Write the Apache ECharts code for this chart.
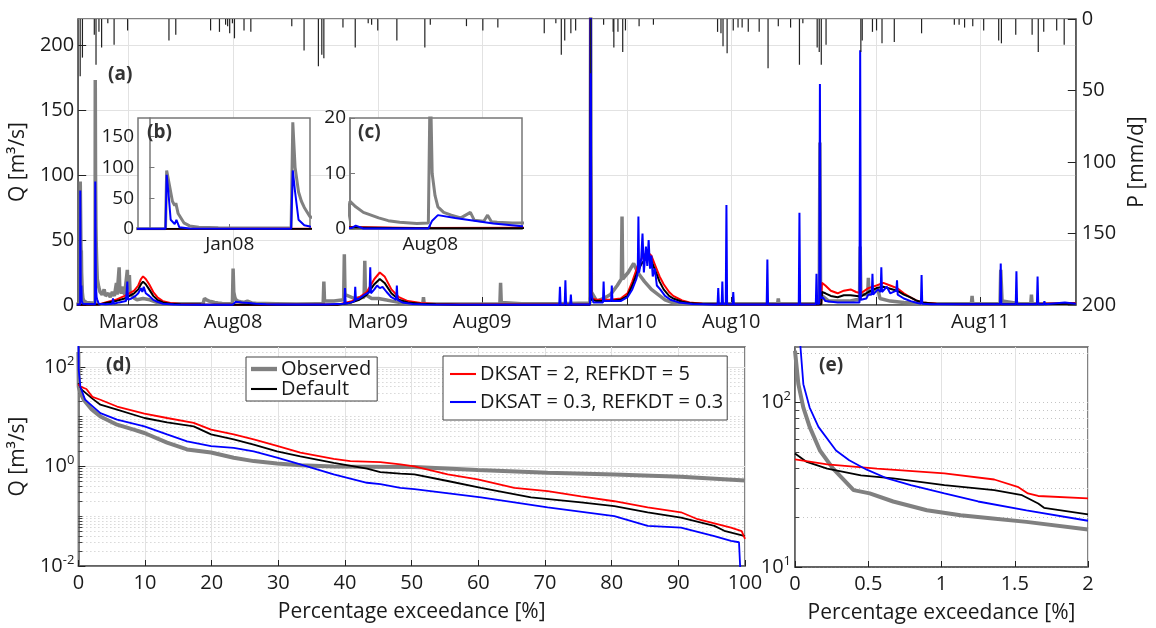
<!DOCTYPE html>
<html><head><meta charset="utf-8">
<script src="https://cdn.jsdelivr.net/npm/echarts@6/dist/echarts.min.js"></script>
<style>html,body{margin:0;padding:0;background:#fff}#c{width:1156px;height:628px}</style>
</head><body><div id="c"></div>
<script>
// ---------- time reference ----------
const startDate = '2007-12-18';
const endDate = '2011-12-19';
const timeTickDates = ['2008-03-01','2008-08-01','2009-03-01','2009-08-01','2010-03-01','2010-08-01','2011-03-01','2011-08-01'];
const timeTickLabels = ['Mar08','Aug08','Mar09','Aug09','Mar10','Aug10','Mar11','Aug11'];
const insetBRange = ['2007-12-16','2008-01-15'];
const insetBTickDates = ['2008-01-01'];
const insetBTickLabels = ['Jan08'];
const insetCRange = ['2008-06-20','2008-09-18'];
const insetCTickDates = ['2008-08-01'];
const insetCTickLabels = ['Aug08'];

// ---------- panel (a): daily discharge [day since start, m3/s] ----------
const obsQ = [[-3,0.5],[2.8,0.5],[3,95],[3.5,70],[4,45],[4.4,38],[4.6,42],[5,25],[6,10],[7,5],[8.6,3],[12,2],[20,1.5],[24.7,1.5],[25,173],[25.4,100],[26,60],[26.5,45],[27,35],[28,20],[30,14],[32,10],[35,8],[38,12],[40,7],[44,9],[47,6],[50,10],[53,7],[56,17],[57,8],[60,29],[61,12],[63,9],[66,14],[68,8],[72,27],[73,12],[75,23],[76,10],[80,6],[86,4],[95,5],[105,4],[115,2],[130,1.2],[160,1],[183,1],[185,5],[188,4],[192,3],[196,2.5],[200,2],[205,1.5],[211,1.2],[220,1],[226,1.1],[227,28],[228,10],[229.5,6],[231,4],[234,3],[238,2.5],[243,2],[248,3],[250,1.6],[255,1.4],[257,2.5],[259,1.3],[262,1.2],[270,1.1],[275,1.1],[290,1],[320,0.8],[350,1],[359,1],[360,18],[361,3],[375,3],[389,4],[390,39],[391,8],[405,5],[419,6],[420,34],[421,8],[430,5],[440,5],[450,4],[460,3],[470,2],[490,1],[505,0.8],[506,6],[507,1],[560,0.8],[618,1],[619,17],[620,2],[650,1],[700,1],[750,1.5],[751,230],[752,10],[760,3],[770,5],[780,8],[790,15],[796,20],[797,68],[798,20],[806,25],[814,32],[820,25],[830,18],[840,12],[850,8],[860,4],[870,2],[890,1],[960,1],[1025,1],[1026,5],[1027,1],[1080,1],[1086,3],[1087,125],[1088,8],[1100,3],[1130,3],[1140,4],[1145,4],[1146,45],[1147,8],[1157,8],[1158,21],[1159,8],[1172,12],[1175,5],[1190,3],[1210,2],[1240,1],[1309,1],[1310,7],[1311,1],[1351,1],[1352,27],[1354,3],[1380,1],[1396,1],[1397,8],[1398,1],[1462,1]];
const defQ = [[-3,0.1],[30,0.3],[40,1.5],[55,3],[68,5],[75,7],[82,9],[88,12],[92,16],[95,18],[99,16],[104,12],[110,7],[116,4],[124,2],[135,1],[150,0.5],[180,0.3],[220,0.15],[380,0.2],[401,2],[412,4],[423,8],[434,16],[442,20],[449,17],[459,9],[470,4],[483,2],[502,1],[524,0.5],[560,0.2],[750,0.2],[751,235],[752,4],[760,3],[780,3],[795,4],[805,7],[812,15],[820,26],[826,32],[834,37],[840,34],[846,26],[852,18],[858,12],[866,7],[872,5],[885,2.5],[896,1.5],[915,0.7],[940,0.4],[1000,0.3],[1085,0.4],[1089,0.5],[1090,10],[1095,9],[1103,7],[1113,6],[1122,7.5],[1132,7.5],[1147,6.5],[1158,10],[1170,13],[1180,14],[1190,12.5],[1200,11],[1210,8],[1219,6],[1228,3.5],[1238,2],[1258,0.8],[1300,0.5],[1400,0.6],[1462,1]];
const redQ = [[-3,0.1],[30,0.5],[40,2],[55,4],[68,7],[75,9],[82,11],[88,15],[92,20],[95,22],[99,20],[104,16],[110,10],[116,6],[124,3],[135,1.5],[150,0.8],[180,0.4],[220,0.2],[380,0.3],[401,3],[412,6],[423,10],[434,20],[442,25],[449,22],[459,12],[470,6],[483,3],[502,1.5],[524,0.7],[560,0.3],[750,0.3],[751,240],[752,5],[760,4],[780,4],[795,5],[805,9],[812,18],[820,30],[826,36],[834,41],[840,38],[846,30],[852,22],[858,16],[866,10],[872,7],[885,3.5],[896,2],[915,1],[940,0.6],[1000,0.4],[1085,0.5],[1089,1],[1090,17],[1095,15],[1103,11],[1113,9],[1122,11],[1132,12],[1140,10],[1147,9],[1158,13],[1170,15],[1180,17],[1190,15],[1200,13],[1210,9],[1219,6],[1228,3.5],[1238,2],[1258,1],[1300,0.6],[1400,0.8],[1462,1.5]];
const blueQ = [[-3,0.3],[2.8,0.3],[3,88],[3.3,60],[3.7,15],[4.4,8],[4.7,15],[5.2,3],[7,1],[24.7,0.5],[25,95],[25.4,60],[26,15],[27,6],[28,4],[30,1],[40,0.5],[50,1],[51,5],[52,1],[60,2],[70,3],[72,18],[73,4],[78,5],[84,7],[88,9],[92,13],[94,10],[96,14],[99,9],[104,7],[110,4],[116,2.5],[124,1],[140,0.4],[180,0.2],[186,0.2],[188,0.6],[192,0.1],[226,0.1],[228,1.5],[231,2.5],[240,2],[250,1.5],[260,1],[275,0.5],[290,0.3],[360,0.3],[390,1],[391,13],[392,1],[400,2],[405,3],[406,14],[407,4],[412,5],[420,8],[427,10],[428,29],[429,9],[434,12],[438,15],[442,13],[446,14],[452,10],[459,6],[466,4],[467,15],[468,4],[475,2],[490,0.8],[510,0.3],[705,0.2],[706,14],[707,0.2],[713,0.3],[714,19],[715,0.3],[721,0.2],[722,8],[723,0.3],[750,0.3],[751,260],[752,8],[755,2],[769,2],[770,18],[771,3],[781,3],[782,15],[783,3],[795,3],[805,6],[812,12],[818,20],[820,25],[821,68],[822,25],[825,35],[827,55],[829,25],[832,45],[834,30],[836,50],[838,28],[840,38],[842,22],[845,28],[848,15],[853,12],[860,7],[868,4],[880,2],[900,0.8],[930,0.3],[937,0.3],[938,13],[939,0.5],[943,0.5],[944,18],[945,0.5],[949,0.5],[950,77],[951,0.5],[959,0.3],[960,10],[961,0.3],[1009,0.3],[1010,35],[1011,0.3],[1056,0.3],[1057,71],[1058,0.3],[1081,0.5],[1082,24],[1083,1],[1086,1],[1087,170],[1088,5],[1091,6],[1095,3],[1113,2],[1130,2],[1145,2],[1146,196],[1147,4],[1155,5],[1158,8],[1163,8],[1164,24],[1165,8],[1172,12],[1176,10],[1177,29],[1178,10],[1185,14],[1190,9],[1199,11],[1200,19],[1201,8],[1210,5],[1220,3],[1230,1.5],[1235,1],[1236,23],[1237,1],[1250,0.5],[1351,0.5],[1352,32],[1353,0.5],[1374,0.5],[1375,26],[1376,0.5],[1405,0.5],[1406,22],[1407,0.5],[1415,0.5],[1416,3],[1417,0.5],[1446,2],[1462,1]];
// precipitation [day, mm/d]
const precipP = [[2.9,40],[6.2,27],[23.6,11],[26.1,32],[30.4,9],[34.3,20],[43.4,3],[52.6,18],[72.4,8],[133,15],[143,11],[194,8],[207,9],[216,4],[219,5],[222,10],[226,3],[229,13.5],[243,8],[253,9],[313,5],[331,22],[352,33],[357,25],[360,27.5],[388,6],[406,20],[425,3],[430,4],[439,8],[467,15],[508,20],[516,4],[569,5],[593,8],[615,6],[683,10],[700,3],[708,25],[713,15],[722,10],[729,8],[751,38],[770,4],[784,9],[785,20],[791,9],[798,23],[802,8],[822,5],[843,4],[937,9],[942,10],[945,19],[951,24],[960,8],[967,6],[973,6],[982,9],[998,9],[1011,34.5],[1026,5],[1044,6],[1057,32],[1062,3],[1083,20],[1086,23],[1089,32],[1096,18],[1147,23],[1149,15],[1164,9],[1170,8],[1178,17],[1196,16],[1236,10],[1284,4],[1291,4],[1299,6],[1311,5],[1327,8],[1349,15],[1353,17],[1374,11],[1398,11],[1407,23],[1415,9],[1434,8],[1445,18]];

// ---------- panel (d): flow duration curves [% exceedance, m3/s] ----------
const fdcObs = [[0,200],[0.05,40],[0.3,30],[0.8,22],[2,14],[3.3,10.1],[5.8,6.9],[8.3,5.5],[9.9,4.7],[13.3,3.0],[16.3,2.2],[19.9,1.9],[23.3,1.5],[26.3,1.28],[29.8,1.15],[33.3,1.06],[38.3,1.0],[43.3,0.99],[50.4,0.97],[59.9,0.85],[70.4,0.75],[80.4,0.69],[90.4,0.62],[100,0.52]];
const fdcDef = [[0,47],[0.5,35],[2,23.6],[3.3,17.4],[5.8,13.8],[9.9,9.4],[13.3,7.7],[17.3,6.4],[19.9,4.4],[23.3,3.5],[26.3,2.75],[29.8,2.0],[33.3,1.6],[38.3,1.18],[43.3,0.9],[45.3,0.77],[48.3,0.72],[50.4,0.69],[55.4,0.51],[60.4,0.37],[67.9,0.24],[75.4,0.19],[80.4,0.16],[85.4,0.12],[90.4,0.094],[95.4,0.064],[96.9,0.051],[100,0.04]];
const fdcRed = [[0,45],[0.3,40],[1.2,36],[2.1,25],[3.3,21.9],[5.8,16],[9.9,11.5],[13.3,9.4],[17.3,7.5],[19.9,5.5],[23.3,4.4],[26.3,3.5],[29.8,2.6],[33.3,1.9],[38.3,1.42],[40.8,1.28],[45.3,1.22],[48.3,1.1],[50.4,1.0],[55.4,0.69],[59.9,0.55],[65.4,0.37],[70.4,0.32],[75.4,0.25],[80.4,0.20],[85.4,0.15],[90.4,0.12],[92.9,0.087],[95.4,0.072],[97.9,0.059],[99.5,0.05],[100,0.035]];
const fdcBlue = [[0,400],[0.05,87],[0.3,40],[1,22],[3.3,11.8],[5.8,8.7],[9.9,6.4],[13.3,4.4],[16.3,3.2],[19.9,2.55],[23.3,2.36],[26.3,2.0],[29.8,1.5],[33.3,1.1],[38.3,0.69],[43.3,0.47],[45.3,0.44],[48.3,0.37],[50.4,0.35],[60.4,0.24],[70.4,0.15],[80.4,0.10],[85.4,0.064],[90.4,0.059],[95.4,0.04],[97.9,0.032],[99.1,0.03],[99.3,0.008]];

// ---------- panel (e): first 2 % ----------
const fdeObs = [[0,206],[0.023,129],[0.057,93],[0.10,71],[0.17,51],[0.26,39.6],[0.40,29.3],[0.51,28],[0.67,25],[0.90,22.1],[1.13,20.6],[1.35,19.7],[1.58,18.8],[2.0,16.9]];
const fdeDef = [[0,48.9],[0.08,43.5],[0.22,39.6],[0.45,36],[0.67,34.5],[1.02,31.4],[1.36,29.3],[1.55,27.3],[1.66,24.3],[1.70,22.9],[2.0,20.9]];
const fdeRed = [[0,45],[0.22,42],[0.56,39.6],[1.02,37],[1.36,34],[1.52,30.7],[1.59,28],[1.66,27],[2.0,26.1]];
const fdeBlue = [[0.025,300],[0.057,129],[0.10,93],[0.16,71],[0.28,51],[0.37,44.5],[0.49,39],[0.63,34.5],[0.79,31.4],[1.02,28],[1.25,25],[1.58,22.1],[2.0,19.1]];

const logMajorD = [0.01, 1, 100];
const logMinorD = [0.02,0.03,0.04,0.05,0.06,0.07,0.08,0.09,0.1,0.2,0.3,0.4,0.5,0.6,0.7,0.8,0.9,2,3,4,5,6,7,8,9,10,20,30,40,50,60,70,80,90,200];
const logMajorE = [10, 100];
const logMinorE = [20,30,40,50,60,70,80,90,200];

const seriesNames = ['Observed','Default','DKSAT = 2, REFKDT = 5','DKSAT = 0.3, REFKDT = 0.3'];

// ---------- helpers ----------
const DAY = 864e5;
function ts(s){const p=s.split('-').map(Number);return Date.UTC(p[0],p[1]-1,p[2]);}
const T0 = ts(startDate);
function dayOf(s){return (ts(s)-T0)/DAY;}
function labelLookup(dates, labels){
  const m = {}; dates.forEach((d,i)=>{m[Math.round(dayOf(d))]=labels[i];});
  return v => m[Math.round(v)] || '';
}
const FONT = 'Open Sans';
const FS = 20;
const FN = 21;
const TXT = '#1a1a1a';
const FRAME = '#5a5a5a';
const GRIDC = '#e2e2e2';
const COL = {obs:'#808080', def:'#000000', red:'#ff0000', blue:'#0000ff'};

function supLabel(v){const e=Math.round(Math.log10(v));return '{b|10}{s|'+e+'}';}
const supRich = {b:{fontSize:FS,fontFamily:FONT,color:TXT}, s:{fontSize:13,fontFamily:FONT,color:TXT,verticalAlign:'top',padding:[0,0,12,0]}};

function line(name, data, xi, yi, color, width, z){
  return {type:'line', name, data, xAxisIndex:xi, yAxisIndex:yi, showSymbol:false, symbol:'none',
    lineStyle:{color, width}, itemStyle:{color}, z, silent:true, clip:true};
}
const thickIcon = 'path://M0,0h30v5h-30z';
const thinIcon = 'path://M0,0h30v2.4h-30z';

const axisLineStyle = {show:true, lineStyle:{color:FRAME, width:1.5}};
const lbl = (fs)=>({fontSize:fs, fontFamily:FONT, color:TXT});

const option = {
  animation:false,
  backgroundColor:'#fff',
  grid:[
    {left:78, right:68, top:19, height:286, show:true, borderColor:FRAME, borderWidth:1.5, backgroundColor:'transparent'},
    {left:138, top:118, width:172, height:111, show:true, borderColor:'#777', borderWidth:1.5, backgroundColor:'#fff', z:20},
    {left:350, top:118, width:172, height:111, show:true, borderColor:'#777', borderWidth:1.5, backgroundColor:'#fff', z:20},
    {left:78, top:347, width:667, height:219, show:true, borderColor:FRAME, borderWidth:1.5},
    {left:795, top:347, width:293, height:220, show:true, borderColor:FRAME, borderWidth:1.5}
  ],
  xAxis:[
    {type:'value', gridIndex:0, min:dayOf(startDate), max:dayOf(endDate), axisLine:axisLineStyle,
      axisTick:{inside:true, length:8, customValues:timeTickDates.map(dayOf), lineStyle:{color:'#222'}},
      axisLabel:{...lbl(FS), margin:7, customValues:timeTickDates.map(dayOf), formatter:labelLookup(timeTickDates,timeTickLabels)},
      splitLine:{show:true, lineStyle:{color:GRIDC, width:1}}},
    {type:'value', gridIndex:1, min:dayOf(insetBRange[0]), max:dayOf(insetBRange[1]), z:21, axisLine:{show:true,lineStyle:{color:'#777',width:1.5}},
      axisTick:{inside:true, length:5, customValues:insetBTickDates.map(dayOf)},
      axisLabel:{...lbl(19), margin:6, customValues:insetBTickDates.map(dayOf), formatter:labelLookup(insetBTickDates,insetBTickLabels)},
      splitLine:{show:false}},
    {type:'value', gridIndex:2, min:dayOf(insetCRange[0]), max:dayOf(insetCRange[1]), z:21, axisLine:{show:true,lineStyle:{color:'#777',width:1.5}},
      axisTick:{inside:true, length:5, customValues:insetCTickDates.map(dayOf)},
      axisLabel:{...lbl(19), margin:6, customValues:insetCTickDates.map(dayOf), formatter:labelLookup(insetCTickDates,insetCTickLabels)},
      splitLine:{show:false}},
    {type:'value', gridIndex:3, min:0, max:100, interval:10, axisLine:axisLineStyle,
      axisTick:{inside:true, length:6, lineStyle:{color:'#222'}},
      axisLabel:{...lbl(FS), margin:7},
      splitLine:{show:true, lineStyle:{color:GRIDC}},
      name:'Percentage exceedance [%]', nameLocation:'middle', nameGap:36, nameTextStyle:lbl(FN)},
    {type:'value', gridIndex:4, min:0, max:2, interval:0.5, axisLine:axisLineStyle,
      axisTick:{inside:true, length:6, lineStyle:{color:'#222'}},
      axisLabel:{...lbl(FS), margin:7, showMinLabel:true, showMaxLabel:true},
      splitLine:{show:true, lineStyle:{color:GRIDC}},
      name:'Percentage exceedance [%]', nameLocation:'middle', nameGap:36, nameTextStyle:lbl(FN)}
  ],
  yAxis:[
    {type:'value', gridIndex:0, min:0, max:220, interval:50, position:'left', axisLine:axisLineStyle,
      axisTick:{inside:true, length:8, lineStyle:{color:'#222'}},
      axisLabel:{...lbl(FS), margin:4, showMaxLabel:false},
      splitLine:{show:true, lineStyle:{color:GRIDC}},
      name:'Q [m³/s]', nameLocation:'middle', nameGap:42, nameTextStyle:lbl(FN)},
    {type:'value', gridIndex:0, min:0, max:200, interval:50, inverse:true, position:'right', axisLine:axisLineStyle,
      axisTick:{inside:true, length:8, lineStyle:{color:'#222'}},
      axisLabel:{...lbl(FS), margin:6},
      splitLine:{show:false},
      name:'P [mm/d]', nameLocation:'middle', nameGap:47, nameTextStyle:lbl(FN)},
    {type:'value', gridIndex:1, min:0, max:180, interval:50, z:21, axisLine:{show:true,lineStyle:{color:'#777',width:1.5}},
      axisTick:{inside:true, length:5},
      axisLabel:{...lbl(19), margin:4, showMaxLabel:false}, splitLine:{show:false}},
    {type:'value', gridIndex:2, min:0, max:20, interval:10, z:21, axisLine:{show:true,lineStyle:{color:'#777',width:1.5}},
      axisTick:{inside:true, length:5},
      axisLabel:{...lbl(19), margin:4}, splitLine:{show:false}},
    {type:'log', logBase:10, gridIndex:3, min:0.01, max:251, position:'left', axisLine:axisLineStyle,
      axisTick:{inside:true, length:7, customValues:logMajorD, lineStyle:{color:'#222'}},
      axisLabel:{customValues:logMajorD, formatter:supLabel, rich:supRich, margin:4},
      splitLine:{show:true, lineStyle:{color:GRIDC}},
      name:'Q [m³/s]', nameLocation:'middle', nameGap:42, nameTextStyle:lbl(FN)},
    {type:'log', logBase:10, gridIndex:3, min:0.01, max:251, position:'left', axisLine:{show:false},
      axisTick:{show:true, inside:true, length:4, customValues:logMinorD, lineStyle:{color:'#444'}},
      axisLabel:{show:false},
      splitLine:{show:true, lineStyle:{color:'#c4c4c4', type:[1,3], width:1}}},
    {type:'log', logBase:10, gridIndex:4, min:10, max:217, position:'left', axisLine:axisLineStyle,
      axisTick:{inside:true, length:7, customValues:logMajorE, lineStyle:{color:'#222'}},
      axisLabel:{customValues:logMajorE, formatter:supLabel, rich:supRich, margin:4},
      splitLine:{show:true, lineStyle:{color:'#c4c4c4', type:[1,3]}}},
    {type:'log', logBase:10, gridIndex:4, min:10, max:217, position:'left', axisLine:{show:false},
      axisTick:{show:true, inside:true, length:4, customValues:logMinorE, lineStyle:{color:'#444'}},
      axisLabel:{show:false},
      splitLine:{show:true, lineStyle:{color:'#c4c4c4', type:[1,3], width:1}}}
  ],
  legend:[
    {data:[{name:seriesNames[0], icon:thickIcon},{name:seriesNames[1], icon:thinIcon}], left:246, top:357, orient:'vertical', selectedMode:false,
      backgroundColor:'#fff', borderColor:'#444', borderWidth:1, padding:[2,6,2,5], itemGap:0,
      itemWidth:26, itemHeight:24, textStyle:{...lbl(FS), padding:[0,0,0,-1]}, z:30},
    {data:[{name:seriesNames[2], icon:thinIcon},{name:seriesNames[3], icon:thinIcon}], left:443, top:356, orient:'vertical', selectedMode:false,
      backgroundColor:'#fff', borderColor:'#444', borderWidth:1, padding:[8,4,8,7], itemGap:8,
      itemWidth:26, itemHeight:24, textStyle:{...lbl(FS), padding:[0,0,0,-1]}, z:30}
  ],
  graphic:[
    {type:'text', left:108, top:65, z:50, style:{text:'(a)', font:'bold 19px "Open Sans"', fill:'#333'}},
    {type:'text', left:147, top:123, z:50, style:{text:'(b)', font:'bold 19px "Open Sans"', fill:'#333'}},
    {type:'text', left:358, top:123, z:50, style:{text:'(c)', font:'bold 19px "Open Sans"', fill:'#333'}},
    {type:'text', left:106, top:356, z:50, style:{text:'(d)', font:'bold 19px "Open Sans"', fill:'#333'}},
    {type:'text', left:819, top:356, z:50, style:{text:'(e)', font:'bold 19px "Open Sans"', fill:'#333'}}
  ],
  series:[
    line(seriesNames[0], obsQ, 0, 0, COL.obs, 3.5, 2),
    line(seriesNames[2], redQ, 0, 0, COL.red, 2, 3),
    line(seriesNames[1], defQ, 0, 0, COL.def, 2, 3),
    line(seriesNames[3], blueQ, 0, 0, COL.blue, 2, 4),
    {type:'bar', name:'P', data:precipP, xAxisIndex:0, yAxisIndex:1, barWidth:1.2, itemStyle:{color:'#222'}, z:5, silent:true},

    line(seriesNames[0], obsQ, 1, 2, COL.obs, 3, 22),
    line(seriesNames[2], redQ, 1, 2, COL.red, 1.8, 23),
    line(seriesNames[1], defQ, 1, 2, COL.def, 1.8, 23),
    line(seriesNames[3], blueQ, 1, 2, COL.blue, 2, 24),

    line(seriesNames[0], obsQ, 2, 3, COL.obs, 3, 22),
    line(seriesNames[2], redQ, 2, 3, COL.red, 1.8, 23),
    line(seriesNames[1], defQ, 2, 3, COL.def, 1.8, 23),
    line(seriesNames[3], blueQ, 2, 3, COL.blue, 2, 24),

    line(seriesNames[0], fdcObs, 3, 4, COL.obs, 4, 3),
    line(seriesNames[1], fdcDef, 3, 4, COL.def, 1.8, 4),
    line(seriesNames[2], fdcRed, 3, 4, COL.red, 1.8, 4),
    line(seriesNames[3], fdcBlue, 3, 4, COL.blue, 1.8, 4),

    line(seriesNames[0], fdeObs, 4, 6, COL.obs, 4, 3),
    line(seriesNames[1], fdeDef, 4, 6, COL.def, 1.8, 4),
    line(seriesNames[2], fdeRed, 4, 6, COL.red, 1.8, 4),
    line(seriesNames[3], fdeBlue, 4, 6, COL.blue, 1.8, 4)
  ]
};
const chart = echarts.init(document.getElementById('c'));
chart.setOption(option);
</script></body></html>
